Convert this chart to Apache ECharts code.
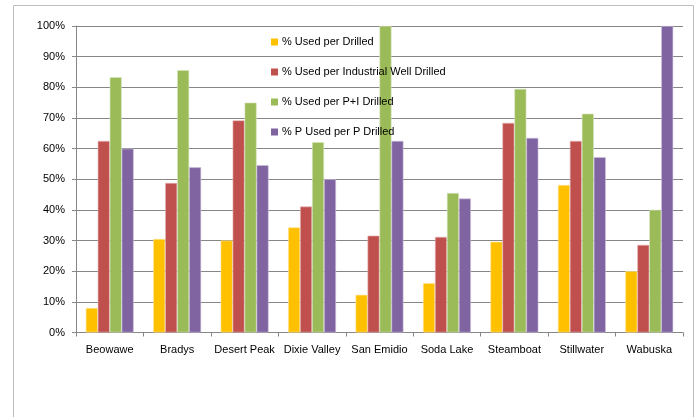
<!DOCTYPE html>
<html><head><meta charset="utf-8">
<script src="https://cdn.jsdelivr.net/npm/echarts@6/dist/echarts.min.js"></script>
<style>html,body{margin:0;padding:0;background:#fff}#c{width:698px;height:417px}</style>
</head><body><div id="c"></div>
<script>
const categories = ["Beowawe","Bradys","Desert Peak","Dixie Valley","San Emidio","Soda Lake","Steamboat","Stillwater","Wabuska"];
const seriesNames = ["% Used per Drilled","% Used per Industrial Well Drilled","% Used per P+I Drilled","% P Used per P Drilled"];
const usedPerDrilled = [8, 30.5, 30, 34.3, 12.3, 16.1, 29.6, 48.1, 20];
const usedPerIndustrial = [62.5, 48.8, 69.2, 41.1, 31.6, 31.2, 68.4, 62.5, 28.6];
const usedPerPI = [83.3, 85.6, 75, 62.1, 100, 45.5, 79.5, 71.4, 40];
const pUsedPerP = [60, 53.9, 54.6, 50, 62.5, 43.7, 63.5, 57.2, 100];
const yTicks = [0,10,20,30,40,50,60,70,80,90,100];

const colors = ["#FFC000","#C0504D","#9BBB59","#8064A2"];
const borders = ["#FFE699","#E6B9B8","#D7E4BD","#CCC1DA"];
const FONT = "Liberation Sans";
const chart = echarts.init(document.getElementById('c'));
const datasets = [usedPerDrilled, usedPerIndustrial, usedPerPI, pUsedPerP];
chart.setOption({
  animation: false,
  textStyle: {fontFamily: FONT},
  graphic: [{type:'rect', shape:{x:13.5,y:5.5,width:680,height:420}, style:{fill:'none', stroke:'#BFBFBF', lineWidth:1}, z:-1}],
  grid: {left:76, right:15, top:26, bottom:84.5, containLabel:false},
  legend: {
    orient:'vertical', left:271, top:35, padding:0, itemWidth:7, itemHeight:7, itemGap:16,
    icon:'rect', itemStyle:{borderWidth:0},
    textStyle:{fontSize:11, color:'#000', fontFamily:FONT, lineHeight:14, padding:[0,0,0,-1]},
    data: seriesNames, z: 10
  },
  xAxis: {
    type:'category', data:categories,
    axisLine:{lineStyle:{color:'#868686'}},
    axisTick:{show:true, length:4, lineStyle:{color:'#868686'}},
    axisLabel:{color:'#000', fontSize:11, margin:12, fontFamily:FONT, interval:0}
  },
  yAxis: {
    type:'value', min:0, max:100, interval:10,
    axisLine:{show:true, lineStyle:{color:'#868686'}},
    axisTick:{show:true, length:4, lineStyle:{color:'#868686'}},
    splitLine:{lineStyle:{color:'#868686'}},
    axisLabel:{color:'#000', fontSize:11, margin:11, fontFamily:FONT, formatter: v => yTicks.includes(v) ? v + '%' : ''}
  },
  series: datasets.map((d,i)=>({
    name: seriesNames[i], type:'bar', data:d,
    barGap:'0%', barCategoryGap:'29%',
    itemStyle:{color:colors[i], borderColor:borders[i], borderWidth:0.6}
  }))
});
</script></body></html>
